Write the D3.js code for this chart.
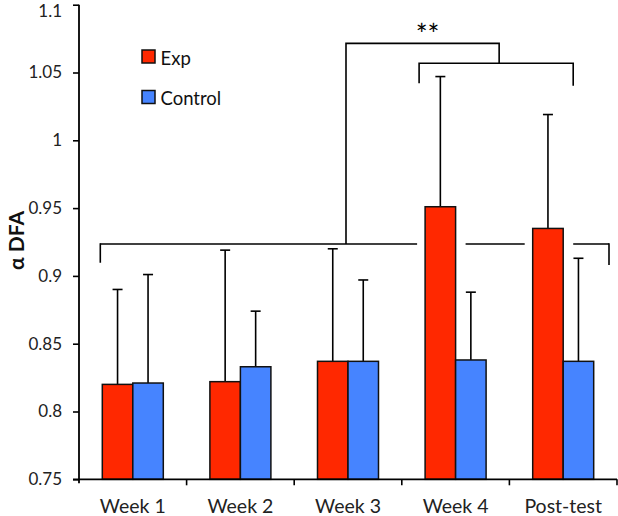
<!DOCTYPE html>
<html>
<head>
<meta charset="utf-8">
<script src="https://cdn.jsdelivr.net/npm/d3@7"></script>
<style>
  html, body { margin: 0; padding: 0; background: #fff; }
  svg { display: block; font-family: Lato, "Open Sans", sans-serif; }
</style>
</head>
<body>
<svg id="chart" width="618" height="516"></svg>
<script>
// ---- data ----
const categories = ["Week 1", "Week 2", "Week 3", "Week 4", "Post-test"];
const seriesNames = ["Exp", "Control"];
const expMeans = [0.820, 0.822, 0.837, 0.951, 0.935];
const expSD = [0.070, 0.097, 0.083, 0.096, 0.084];
const controlMeans = [0.821, 0.833, 0.837, 0.838, 0.837];
const controlSD = [0.080, 0.041, 0.060, 0.050, 0.076];
const yTicks = [0.75, 0.8, 0.85, 0.9, 0.95, 1, 1.05, 1.1];
const yTickLabels = ["0.75", "0.8", "0.85", "0.9", "0.95", "1", "1.05", "1.1"];
const yTitle = "α DFA";
const sigLabel = "**";
// significance brackets (in data units)
const lowBracketLevel = 0.9235;
const lowBracketDropLeft = 0.9097;
const lowBracketDropRight = 0.908;
const highBracketLevel = 1.0568;
const highBracketDropLeft = 1.0421;
const highBracketDropRight = 1.0403;
const topBracketLevel = 1.0715;

// ---- layout ----
const svg = d3.select("#chart");
const plotLeft = 79, plotRight = 617, plotTop = 4.7, plotBottom = 479.3;
const colors = { Exp: "#FF2800", Control: "#4684FF" };

const x = d3.scaleBand().domain(categories).range([plotLeft, plotRight]).paddingInner(0).paddingOuter(0);
const xs = d3.scaleBand().domain(seriesNames).range([0, x.bandwidth()]).paddingInner(0).paddingOuter(0.764);
const y = d3.scaleLinear().domain([0.75, 1.1]).range([plotBottom, plotTop]);

const rows = [];
categories.forEach((c, i) => {
  rows.push({ cat: c, s: "Exp", mean: expMeans[i], sd: expSD[i] });
  rows.push({ cat: c, s: "Control", mean: controlMeans[i], sd: controlSD[i] });
});

// ---- significance brackets (behind bars) ----
const br = svg.append("g").attr("stroke", "#000").attr("stroke-width", 1.6).attr("fill", "none");
const expX = c => x(c) + xs("Exp");
const bw = xs.bandwidth();

const lbLeft = expX("Week 1") - 2;
const lbRight = x("Post-test") + x.bandwidth() - 8;
const lbY = y(lowBracketLevel);
const gaps = rows.filter(r => r.mean > lowBracketLevel)
  .map(r => [x(r.cat) + xs(r.s) - 8, x(r.cat) + xs(r.s) + bw + 10]);
let cur = lbLeft;
const segs = [];
gaps.forEach(g => { segs.push([cur, g[0]]); cur = g[1]; });
segs.push([cur, lbRight]);
segs.forEach(s => br.append("line").attr("x1", s[0]).attr("x2", s[1]).attr("y1", lbY).attr("y2", lbY));
br.append("line").attr("x1", lbLeft).attr("x2", lbLeft).attr("y1", lbY - 0.8).attr("y2", y(lowBracketDropLeft));
br.append("line").attr("x1", lbRight).attr("x2", lbRight).attr("y1", lbY - 0.8).attr("y2", y(lowBracketDropRight));

const hbLeft = expX("Week 4") - 6;
const hbRight = expX("Post-test") + bw + 10;
const hbY = y(highBracketLevel);
br.append("path").attr("d", `M${hbLeft},${y(highBracketDropLeft)}V${hbY}H${hbRight}V${y(highBracketDropRight)}`);

const tbLeft = x("Week 3") + x.bandwidth() / 2 - 2;
const tbRight = (hbLeft + hbRight) / 2 + 3;
const tbY = y(topBracketLevel);
br.append("path").attr("d", `M${tbLeft},${lbY}V${tbY}H${tbRight}V${hbY}`);

svg.append("text").attr("x", (tbLeft + tbRight) / 2 + 5).attr("y", 45)
  .attr("text-anchor", "middle").attr("font-size", 28).attr("fill", "#000").text(sigLabel);

// ---- error bars ----
const eb = svg.append("g").attr("stroke", "#000").attr("stroke-width", 1.6);
rows.forEach(r => {
  const cx = x(r.cat) + xs(r.s) + bw / 2;
  eb.append("line").attr("x1", cx).attr("x2", cx).attr("y1", y(r.mean)).attr("y2", y(r.mean + r.sd));
  eb.append("line").attr("x1", cx - 5).attr("x2", cx + 5).attr("y1", y(r.mean + r.sd)).attr("y2", y(r.mean + r.sd));
});

// ---- bars ----
svg.append("g").selectAll("rect").data(rows).join("rect")
  .attr("x", d => x(d.cat) + xs(d.s))
  .attr("y", d => y(d.mean))
  .attr("width", bw)
  .attr("height", d => y(0.75) - y(d.mean))
  .attr("fill", d => colors[d.s])
  .attr("stroke", "#111")
  .attr("stroke-width", 1.5);

// ---- axes ----
const yAxis = svg.append("g").attr("transform", `translate(${plotLeft},0)`)
  .call(d3.axisLeft(y).tickValues(yTicks).tickSize(6).tickPadding(11)
    .tickFormat((d, i) => yTickLabels[i]));
yAxis.select(".domain").attr("stroke", "#000").attr("stroke-width", 1.8).attr("d", `M0,${plotTop}V${plotBottom + 4}`);
yAxis.selectAll(".tick line").attr("stroke", "#000").attr("stroke-width", 1.6);
yAxis.selectAll(".tick text").attr("font-size", 17).attr("fill", "#222").attr("font-family", "Lato, sans-serif")
  .attr("y", d => Math.max(0, 11 - y(d)));

const xAxisG = svg.append("g").attr("transform", `translate(0,${plotBottom})`);
xAxisG.append("line").attr("x1", plotLeft - 6).attr("x2", plotRight).attr("y1", 0).attr("y2", 0)
  .attr("stroke", "#000").attr("stroke-width", 1.8);
const boundaries = categories.map(c => x(c) + x.bandwidth());
xAxisG.selectAll("line.tk").data(boundaries).join("line").attr("class", "tk")
  .attr("x1", d => d).attr("x2", d => d).attr("y1", 0).attr("y2", 6)
  .attr("stroke", "#000").attr("stroke-width", 1.6);
xAxisG.selectAll("text").data(categories).join("text")
  .attr("x", d => x(d) + x.bandwidth() / 2).attr("y", 33.5)
  .attr("text-anchor", "middle").attr("font-size", 19.5).attr("fill", "#222").text(d => d);

// ---- y title ----
svg.append("text").attr("transform", "translate(23.5,240.5) rotate(-90)")
  .attr("text-anchor", "middle").attr("font-size", 21).attr("font-weight", "bold")
  .attr("fill", "#111").text(yTitle);

// ---- legend ----
const lg = svg.append("g");
seriesNames.forEach((s, i) => {
  const gy = 50 + i * 40.5;
  lg.append("rect").attr("x", 142).attr("y", gy).attr("width", 13).attr("height", 13)
    .attr("fill", colors[s]).attr("stroke", "#111").attr("stroke-width", 1.5);
  lg.append("text").attr("x", 160.5).attr("y", gy + 14.5).attr("font-size", 18.5).attr("fill", "#111").text(s);
});
</script>
</body>
</html>
